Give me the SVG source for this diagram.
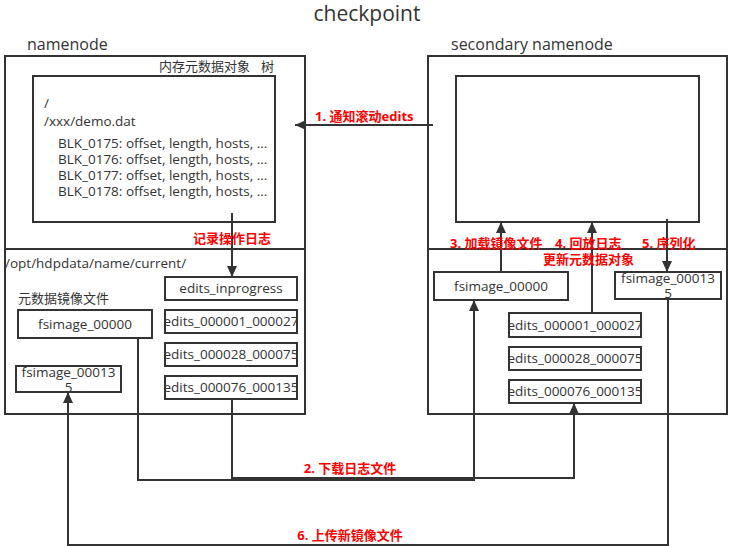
<svg xmlns="http://www.w3.org/2000/svg" width="734" height="546" viewBox="0 0 734 546">
<defs>
<style>
.bx{fill:#fff;stroke:#333;stroke-width:2}
.fr{fill:none;stroke:#333;stroke-width:2}
.ln{fill:none;stroke:#333;stroke-width:2}
.t{font-family:"Open Sans","Noto Sans CJK SC",sans-serif;font-size:13.5px;fill:#333}
.z{font-size:13px}
.c{text-anchor:middle}
.h{font-family:"Open Sans","Noto Sans CJK SC",sans-serif;font-size:16px;fill:#333}
.r{font-family:"Open Sans","Noto Sans CJK SC",sans-serif;font-size:13px;font-weight:bold;fill:#ff0000}
</style>
<marker id="ah" viewBox="0 0 12 12" markerWidth="12" markerHeight="12" markerUnits="userSpaceOnUse" refX="11" refY="6" orient="auto">
<path d="M0,1 L11,6 L0,11 z" fill="#333"/>
</marker>
</defs>
<rect width="734" height="546" fill="#fff"/>
<text x="367" y="21" class="c" style="font-family:'Open Sans','Noto Sans CJK SC',sans-serif;font-size:21px;fill:#333">checkpoint</text>

<g id="namenode">
<text x="27" y="50" class="h">namenode</text>
<rect x="5" y="56" width="300" height="358" class="bx"/>
<line x1="5" y1="249" x2="305" y2="249" class="fr"/>
<text x="159" y="71" class="t z">内存元数据对象<tspan x="261">树</tspan></text>
<rect x="33" y="76" width="242" height="146" class="bx"/>
<text x="44" y="108" class="t">/</text>
<text x="44" y="126" class="t">/xxx/demo.dat</text>
<text x="58" y="148" class="t">BLK_0175: offset, length, hosts, ...</text>
<text x="58" y="164" class="t">BLK_0176: offset, length, hosts, ...</text>
<text x="58" y="180" class="t">BLK_0177: offset, length, hosts, ...</text>
<text x="58" y="196" class="t">BLK_0178: offset, length, hosts, ...</text>
<text x="5" y="268" class="t">/opt/hdpdata/name/current/</text>
<text x="18" y="303" class="t z">元数据镜像文件</text>
</g>

<g id="nn-fsimage-00000">
<rect x="18" y="310" width="134" height="28" class="bx"/>
<text x="85" y="329" class="t c">fsimage_00000</text>
</g>
<g id="nn-fsimage-00135">
<rect x="16" y="366" width="105" height="26" class="bx"/>
<text x="68.5" y="377" class="t c">fsimage_00013</text>
<text x="68.5" y="392" class="t c">5</text>
</g>
<g id="nn-edits-inprogress">
<rect x="165" y="277" width="132" height="23" class="bx"/>
<text x="231" y="293" class="t c">edits_inprogress</text>
</g>
<g id="nn-edits-1">
<rect x="165" y="310" width="132" height="23" class="bx"/>
<text x="231" y="326" class="t c">edits_000001_000027</text>
<rect x="165" y="310" width="132" height="23" class="fr"/>
</g>
<g id="nn-edits-2">
<rect x="165" y="343" width="132" height="23" class="bx"/>
<text x="231" y="359" class="t c">edits_000028_000075</text>
<rect x="165" y="343" width="132" height="23" class="fr"/>
</g>
<g id="nn-edits-3">
<rect x="165" y="376" width="132" height="23" class="bx"/>
<text x="231" y="392" class="t c">edits_000076_000135</text>
<rect x="165" y="376" width="132" height="23" class="fr"/>
</g>

<g id="secondary">
<text x="451" y="50" class="h">secondary namenode</text>
<rect x="428" y="56" width="299" height="358" class="bx"/>
<line x1="428" y1="249" x2="727" y2="249" class="fr"/>
<rect x="456" y="76" width="243" height="146" class="bx"/>
</g>
<g id="sn-fsimage-00000">
<rect x="434" y="272" width="134" height="28" class="bx"/>
<text x="501" y="291" class="t c">fsimage_00000</text>
</g>
<g id="sn-fsimage-00135">
<rect x="615" y="272" width="106" height="27" class="bx"/>
<text x="668" y="283" class="t c">fsimage_00013</text>
<text x="668" y="298" class="t c">5</text>
</g>
<g id="sn-edits-1">
<rect x="509" y="313" width="132" height="24" class="bx"/>
<text x="575" y="330" class="t c">edits_000001_000027</text>
<rect x="509" y="313" width="132" height="24" class="fr"/>
</g>
<g id="sn-edits-2">
<rect x="509" y="347" width="132" height="23" class="bx"/>
<text x="575" y="363" class="t c">edits_000028_000075</text>
<rect x="509" y="347" width="132" height="23" class="fr"/>
</g>
<g id="sn-edits-3">
<rect x="509" y="380" width="132" height="23" class="bx"/>
<text x="575" y="396" class="t c">edits_000076_000135</text>
<rect x="509" y="380" width="132" height="23" class="fr"/>
</g>

<g id="connectors">
<path d="M433,125 H295" class="ln" marker-end="url(#ah)"/>
<path d="M232,213 V277" class="ln" marker-end="url(#ah)"/>
<path d="M138,338 V480 H474 V300" class="ln" marker-end="url(#ah)"/>
<path d="M232,399 V478 H574 V403" class="ln" marker-end="url(#ah)"/>
<path d="M501,272 V222" class="ln" marker-end="url(#ah)"/>
<path d="M592,313 V222" class="ln" marker-end="url(#ah)"/>
<path d="M667,219 V272" class="ln" marker-end="url(#ah)"/>
<path d="M668,299 V545 H68 V392" class="ln" marker-end="url(#ah)"/>
</g>

<g id="labels">
<text x="315" y="120.5" class="r">1. 通知滚动edits</text>
<text x="193" y="242.5" class="r">记录操作日志</text>
<text x="450" y="247.5" class="r">3. 加载镜像文件</text>
<text x="555" y="247.5" class="r">4. 回放日志</text>
<text x="642" y="247.5" class="r">5. 序列化</text>
<text x="543" y="263.5" class="r">更新元数据对象</text>
<text x="350" y="472.5" class="r c">2. 下载日志文件</text>
<text x="350" y="539.5" class="r c">6. 上传新镜像文件</text>
</g>
</svg>
